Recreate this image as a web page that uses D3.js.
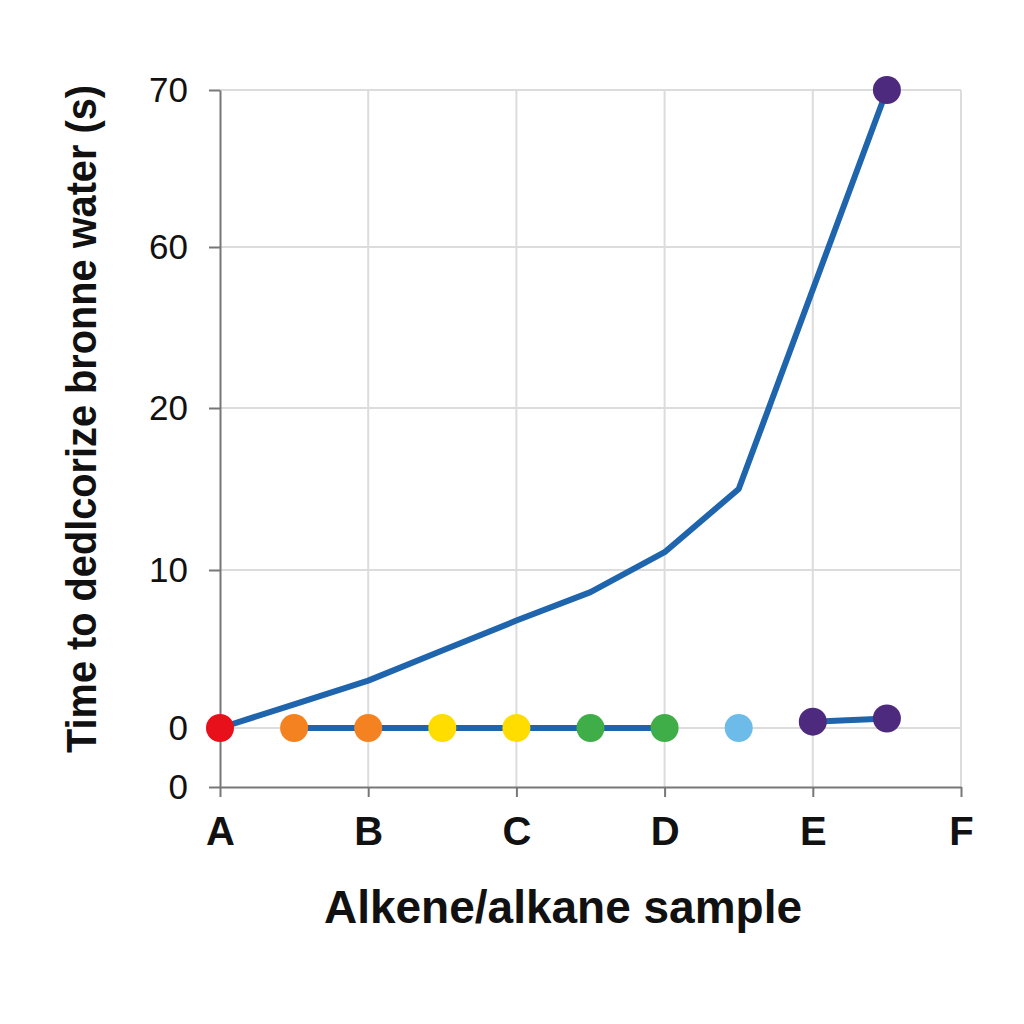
<!DOCTYPE html>
<html>
<head>
<meta charset="utf-8">
<script src="https://cdn.jsdelivr.net/npm/d3@7"></script>
<style>
  body { margin: 0; background: #fff; }
  text { font-family: "Liberation Sans", Arial, sans-serif; fill: #111; }
</style>
</head>
<body>
<div id="chart"></div>
<script>
// ---- data ----
const sampleLabels = ["A", "B", "C", "D", "E", "F"];

// y axis is not evenly spaced: these are the values at each labelled line
const yTickValues = [-3.7, 0, 10, 20, 60, 70];
const yTickLabels = ["0", "0", "10", "20", "60", "70"];

// steep curve (time in s) vs sample position (0 = A, 1 = B ...)
const curveX = [0, 0.5, 1, 1.5, 2, 2.5, 3, 3.5, 4.5];
const curveY = [0, 1.5, 3.0, 4.9, 6.8, 8.6, 11.1, 15, 70];

// flat baseline runs
const flatX = [0.5, 1, 1.5, 2, 2.5, 3];
const flatY = [0, 0, 0, 0, 0, 0];
const tailX = [4, 4.5];
const tailY = [0.4, 0.6];

// coloured markers
const dotX = [0, 0.5, 1, 1.5, 2, 2.5, 3, 3.5, 4, 4.5, 4.5];
const dotY = [0, 0, 0, 0, 0, 0, 0, 0, 0.4, 0.6, 70];
const dotColors = ["#e8101a", "#f58220", "#f58220", "#ffdd00", "#ffdd00",
                   "#3fae49", "#3fae49", "#6cbbe9", "#4e2a7f", "#4e2a7f", "#4e2a7f"];

const width = 1024, height = 1024;

let svg = d3.select("#chart").append("svg")
    .attr("width", width)
    .attr("height", height);

let x = d3.scaleLinear().domain([0, 5]).range([220, 961]);
let y = d3.scaleLinear()
    .domain([-3.7, 0, 10, 20, 60, 70])
    .range([787, 728, 570, 408, 247, 90]);

// grid
let grid = svg.append("g").attr("class", "grid");
grid.selectAll(".hgrid")
    .data(yTickValues.slice(1))
    .enter().append("line")
    .attr("x1", x(0)).attr("x2", x(5))
    .attr("y1", d => y(d)).attr("y2", d => y(d))
    .style("stroke", "#dcdcdc").style("stroke-width", 2);
grid.selectAll(".vgrid")
    .data(d3.range(1, sampleLabels.length))
    .enter().append("line")
    .attr("x1", d => x(d)).attr("x2", d => x(d))
    .attr("y1", y(70)).attr("y2", y(-3.7))
    .style("stroke", "#dcdcdc").style("stroke-width", 2);

// axes
let yAxis = d3.axisLeft(y)
    .tickValues(yTickValues)
    .tickFormat((d, i) => yTickLabels[i])
    .tickSize(11).tickSizeOuter(0).tickPadding(21);
let yG = svg.append("g")
    .attr("transform", "translate(" + x(0) + ",0)")
    .call(yAxis);

let xAxis = d3.axisBottom(x)
    .tickValues(d3.range(sampleLabels.length))
    .tickFormat((d, i) => sampleLabels[i])
    .tickSize(10).tickSizeOuter(0).tickPadding(18);
let xG = svg.append("g")
    .attr("transform", "translate(0," + y(-3.7) + ")")
    .call(xAxis);

[yG, xG].forEach(g => {
    g.selectAll("path, line").style("stroke", "#777").style("stroke-width", 2);
});
yG.selectAll("text")
    .style("font-size", "35px").style("fill", "#111");
xG.selectAll("text")
    .style("font-size", "40px").style("font-weight", "bold").style("fill", "#111")
    .attr("dy", "0.75em");

// lines
let line = d3.line()
    .x(d => x(d[0]))
    .y(d => y(d[1]));

let runs = [
    d3.zip(curveX, curveY),
    d3.zip(flatX, flatY),
    d3.zip(tailX, tailY)
];
svg.append("g").selectAll("path")
    .data(runs)
    .enter().append("path")
    .attr("d", line)
    .style("fill", "none")
    .style("stroke", "#1f65ad")
    .style("stroke-width", 6)
    .style("stroke-linejoin", "round");

// dots
svg.append("g").selectAll("circle")
    .data(d3.zip(dotX, dotY, dotColors))
    .enter().append("circle")
    .attr("cx", d => x(d[0]))
    .attr("cy", d => y(d[1]))
    .attr("r", 14)
    .style("fill", d => d[2]);

// titles
svg.append("text")
    .attr("x", 563).attr("y", 923)
    .attr("text-anchor", "middle")
    .style("font-size", "46px").style("font-weight", "bold")
    .text("Alkene/alkane sample");

svg.append("text")
    .attr("transform", "translate(96,419) rotate(-90)")
    .attr("text-anchor", "middle")
    .attr("textLength", 668)
    .attr("lengthAdjust", "spacingAndGlyphs")
    .style("font-size", "42px").style("font-weight", "bold")
    .text("Time to dedlcorize bronne water (s)");
</script>
</body>
</html>
